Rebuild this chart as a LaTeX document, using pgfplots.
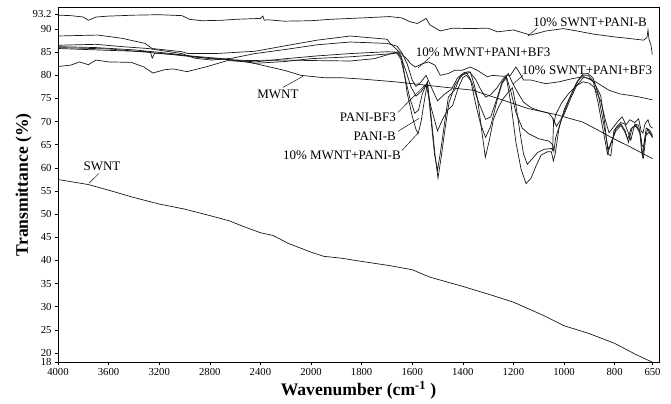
\documentclass[border=0pt]{standalone}
\usepackage{fontspec}
\setmainfont{Liberation Serif}
\usepackage{pgfplots}
\usepackage{pgfplotstable}
\pgfplotsset{compat=1.18}

% w = wavenumber (cm^-1), t = transmittance (%)
\pgfplotstableread{
w t
4000 57.5
3760 56.4
3600 55.2
3400 53.6
3200 52.2
3000 51.1
2800 49.7
2650 48.6
2520 47.2
2400 46.0
2300 45.4
2180 43.7
2000 41.8
1950 40.9
1880 40.5
1800 39.8
1690 38.9
1600 38.0
1530 36.4
1400 34.4
1280 32.4
1200 31.0
1080 28.1
1000 25.9
905 24.3
800 22.1
720 19.8
650 18.0
}\swnt

\pgfplotstableread{
w t
4000 81.9
3900 82.2
3830 82.9
3760 82.3
3700 83.3
3600 82.9
3420 82.8
3320 81.8
3250 80.5
3160 81.2
3090 81.4
2980 80.8
2820 81.9
2660 83.2
2500 82.9
2340 81.9
2200 81.0
2080 80.0
1950 79.5
1885 79.5
1800 79.2
1667 78.6
1500 77.6
1362 76.8
1250 74.8
1140 72.8
1030 71.5
926 69.9
860 68.0
807 66.4
730 64.3
650 62.0
}\mwnt

\pgfplotstableread{
w t
4000 93.0
3900 92.9
3800 92.6
3760 91.9
3740 92.1
3700 92.6
3600 92.8
3400 93.0
3200 93.1
3020 92.9
2960 92.1
2860 91.8
2700 91.9
2600 92.1
2400 92.3
2380 92.8
2370 91.9
2340 92.0
2210 91.7
2000 91.8
1925 92.1
1800 92.4
1690 92.7
1640 92.4
1610 91.6
1580 91.2
1560 91.8
1545 92.3
1530 90.9
1489 89.6
1440 90.2
1370 90.1
1300 90.2
1263 89.4
1200 89.8
1132 88.7
1070 89.6
1002 90.1
950 89.6
883 88.9
800 88.3
748 88.0
685 87.6
672 88.2
668 89.8
664 87.8
656 86.5
651 84.5
}\swntpanib

\pgfplotstableread{
w t
4000 88.5
3850 88.6
3684 88.7
3494 88.0
3312 86.9
3257 85.8
3020 85.1
2972 84.7
2759 84.7
2443 85.2
2200 86.4
1976 87.6
1845 88.5
1699 87.8
1687 86.9
1660 85.5
1640 84.5
1620 83.5
1608 82.6
1588 81.8
1560 82.5
1535 82.9
1510 82.2
1489 80.0
1457 80.4
1431 81.1
1402 81.1
1370 81.8
1340 81.0
1303 79.7
1283 80.0
1240 79.8
1212 80.0
1190 81.8
1175 80.5
1160 79.0
1132 79.0
1073 78.2
1020 78.6
966 79.3
922 79.7
875 78.6
823 76.8
780 76.0
743 75.7
700 75.3
650 74.7
}\mwntpanibf

\pgfplotstableread{
w t
4000 86.5
3700 86.7
3494 86.2
3290 85.8
3020 84.7
2920 83.7
2785 83.3
2625 83.7
2443 84.7
2200 85.6
1976 86.6
1845 87.2
1699 86.9
1660 86.3
1640 84.8
1620 82.5
1600 79.0
1585 77.6
1565 78.6
1545 80.0
1525 77.5
1500 74.5
1475 75.8
1445 77.0
1420 79.5
1395 80.6
1375 80.8
1350 79.2
1330 77.0
1310 75.3
1290 75.8
1265 77.3
1240 79.3
1220 80.4
1205 78.5
1185 76.5
1160 74.2
1130 73.0
1100 72.4
1060 71.8
1045 70.8
1040 69.5
1033 71.5
1010 74.0
980 76.2
950 77.8
925 78.6
900 78.3
880 77.4
855 74.5
835 70.0
822 67.6
805 68.8
785 70.2
770 71.0
755 69.3
740 70.4
720 69.8
705 70.6
695 68.0
688 67.5
680 69.5
668 70.4
660 69.0
650 68.6
}\swntpanibf

\pgfplotstableread{
w t
4000 85.8
3800 85.6
3600 85.4
3270 85.1
3255 83.7
3235 84.8
3100 84.5
2900 83.9
2700 83.5
2443 82.9
2200 83.6
1976 84.2
1845 84.7
1699 85.1
1660 85.0
1645 84.0
1625 81.0
1605 77.5
1585 75.5
1565 76.5
1545 78.0
1525 73.0
1500 68.0
1480 70.5
1460 72.5
1440 73.5
1420 77.0
1400 79.5
1385 80.0
1365 78.6
1340 74.5
1310 70.5
1290 71.0
1265 75.0
1245 78.5
1228 79.8
1210 76.5
1190 72.0
1165 68.6
1140 67.4
1100 66.3
1060 65.8
1045 65.0
1040 63.6
1033 66.5
1010 70.5
980 74.8
950 78.5
925 80.3
905 80.4
885 79.4
865 76.0
845 70.0
825 64.0
810 66.0
795 68.0
775 69.2
760 67.8
748 66.2
735 68.5
715 69.2
700 68.0
692 65.0
686 64.5
675 68.6
662 68.2
650 67.0
}\panibf

\pgfplotstableread{
w t
4000 86.0
3600 85.7
3300 85.0
3000 84.3
2700 83.6
2443 82.6
2200 83.0
2000 83.6
1845 84.0
1700 84.6
1660 84.8
1645 83.5
1630 80.0
1610 75.2
1590 71.8
1575 72.5
1560 76.0
1540 78.6
1525 71.0
1510 63.0
1498 57.8
1485 62.5
1470 68.5
1455 74.0
1430 78.0
1400 80.2
1385 80.6
1370 79.2
1350 74.0
1330 69.5
1310 66.6
1290 69.0
1265 74.5
1245 78.2
1228 79.5
1210 74.0
1190 65.5
1170 59.8
1150 56.6
1130 57.8
1110 60.5
1090 62.8
1065 63.5
1050 63.5
1042 61.5
1035 63.0
1020 68.5
1000 72.5
975 75.5
945 78.8
925 80.0
905 80.0
885 78.8
865 74.0
845 68.0
828 63.0
812 65.6
795 68.5
775 69.5
758 68.0
745 65.5
730 68.8
715 69.0
700 67.4
692 63.0
686 62.2
676 67.0
662 67.8
650 66.6
}\panib

\pgfplotstableread{
w t
4000 86.2
3700 86.0
3400 85.5
3100 84.7
2800 83.6
2500 83.2
2200 83.3
2000 83.2
1845 83.1
1750 83.6
1670 84.9
1655 85.1
1642 84.0
1630 80.0
1620 76.2
1600 71.2
1585 68.3
1576 67.5
1565 70.0
1552 74.5
1540 78.3
1525 70.0
1512 63.0
1500 59.5
1488 63.5
1470 70.5
1457 75.3
1430 77.0
1410 79.9
1370 80.7
1355 78.0
1342 75.0
1325 68.0
1311 62.3
1295 66.0
1279 70.5
1260 73.0
1240 75.0
1218 76.5
1204 77.3
1190 73.5
1175 68.0
1160 63.0
1145 60.8
1125 62.0
1105 63.3
1080 64.0
1050 64.2
1045 63.8
1041 70.5
1030 69.0
1000 71.5
974 75.0
950 77.8
922 79.6
900 79.3
880 78.4
855 75.6
840 70.0
825 63.0
815 62.6
803 68.0
790 69.0
776 69.8
760 69.5
745 67.5
736 66.0
720 69.5
705 69.2
695 66.0
689 62.5
680 66.5
669 68.4
660 67.4
650 66.6
}\mwntpanib

% axis runs 4000->2000 at one scale and 2000->650 at twice that scale
\def\wn{4000-\thisrow{w}+max(0,2000-\thisrow{w})}

\begin{document}
\begin{tikzpicture}
\begin{axis}[
    name=ax,
    scale only axis,
    width=601pt, height=355pt,
    xmin=0, xmax=4751,
    ymin=18, ymax=94.7,
    xtick={0,400,800,1200,1600,2000,2400,2800,3200,3600,4000,4400,4700},
    xticklabels={4000,3600,3200,2800,2400,2000,1800,1600,1400,1200,1000,800,650},
    ytick={18,20,25,30,35,40,45,50,55,60,65,70,75,80,85,90,93.2},
    yticklabels={18,20,25,30,35,40,45,50,55,60,65,70,75,80,85,90,93.2},
    /pgf/number format/assume math mode=true,
    tick align=outside,
    xtick pos=bottom, ytick pos=left,
    major tick length=3pt,
    tick style={black, line width=0.6pt},
    axis line style={black, line width=0.8pt},
    ticklabel style={font=\fontsize{10.7}{12}\selectfont},
    xlabel={Wavenumber (cm\textsuperscript{-1} )},
    ylabel={Transmittance (\%)},
    label style={font=\fontsize{17.6}{20}\selectfont\bfseries},
    xlabel style={at={(axis description cs:0.5,-0.079)}, anchor=center},
    ylabel style={at={(axis description cs:-0.057,0.5)}, anchor=center},
    spec/.style={black!90, solid, line width=0.7pt, mark=none},
]
\addplot[spec] table[x expr=\wn, y=t] {\swnt};
\addplot[spec] table[x expr=\wn, y=t] {\mwnt};
\addplot[spec] table[x expr=\wn, y=t] {\swntpanib};
\addplot[spec] table[x expr=\wn, y=t] {\mwntpanibf};
\addplot[spec] table[x expr=\wn, y=t] {\swntpanibf};
\addplot[spec] table[x expr=\wn, y=t] {\panibf};
\addplot[spec] table[x expr=\wn, y=t] {\panib};
\addplot[spec] table[x expr=\wn, y=t] {\mwntpanib};

% labels and leader lines
\begin{scope}[every node/.style={font=\fontsize{13}{15}\selectfont, inner sep=0pt}]
\node at (axis cs:4206,91.5) {10\% SWNT+PANI-B};
\draw[line width=0.45pt] (axis cs:3787,90.2) -- (axis cs:3715,88.5);
\node at (axis cs:3360,85.0) {10\% MWNT+PANI+BF3};
\draw[line width=0.45pt] (axis cs:2941,83.9) -- (axis cs:2846,81.6);
\node at (axis cs:4182,81.1) {10\% SWNT+PANI+BF3};
\draw[line width=0.45pt] (axis cs:3676,80.0) -- (axis cs:3597,78.1);
\node[anchor=east] at (axis cs:2672,70.9) {PANI-BF3};
\draw[line width=0.45pt] (axis cs:2688,72.0) -- (axis cs:2901,77.9);
\node[anchor=east] at (axis cs:2672,66.8) {PANI-B};
\draw[line width=0.45pt] (axis cs:2688,67.9) -- (axis cs:2854,70.7);
\node[anchor=east] at (axis cs:2711,62.7) {10\% MWNT+PANI-B};
\draw[line width=0.45pt] (axis cs:2719,63.8) -- (axis cs:2846,67.5);
\node at (axis cs:1739,75.9) {MWNT};
\draw[line width=0.45pt] (axis cs:1779,77.4) -- (axis cs:1937,79.8);
\node at (axis cs:348,60.3) {SWNT};
\draw[line width=0.45pt] (axis cs:324,58.8) -- (axis cs:245,56.7);
\end{scope}
\end{axis}
\path (ax.south west) +(-58pt,-41pt) (ax.north east) +(12pt,7.3pt);
\end{tikzpicture}
\end{document}
